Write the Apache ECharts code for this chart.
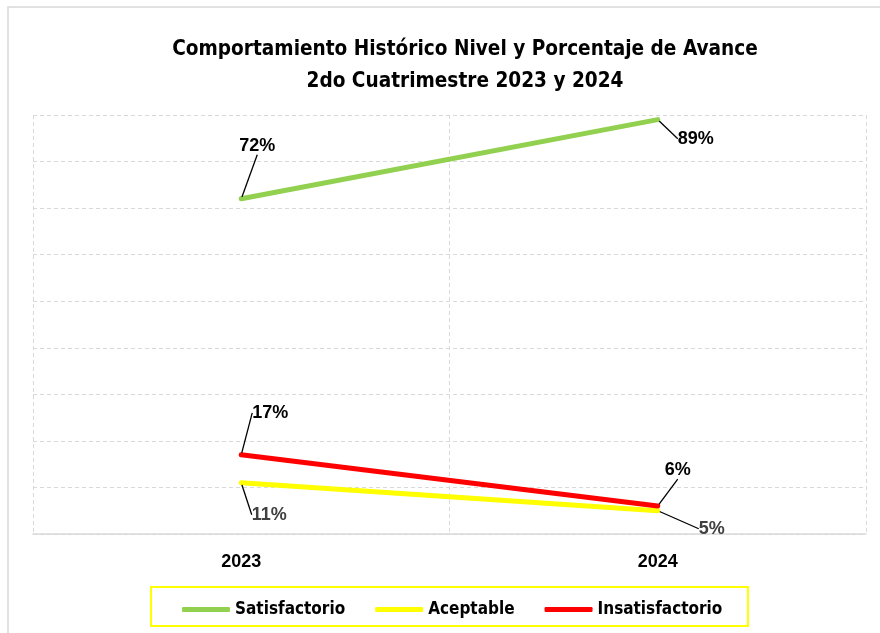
<!DOCTYPE html>
<html><head><meta charset="utf-8">
<script src="https://cdn.jsdelivr.net/npm/echarts@6/dist/echarts.min.js"></script>
<style>html,body{margin:0;padding:0;background:#fff}#c{width:880px;height:633px}</style>
</head><body><div id="c"></div>
<script>
const categories = ['2023', '2024'];
const satisfactorio = [72, 89];
const aceptable = [11, 5];
const insatisfactorio = [17, 6];
const seriesNames = ['Satisfactorio', 'Aceptable', 'Insatisfactorio'];
const yTicks = [0, 10, 20, 30, 40, 50, 60, 70, 80, 90];

const narrow = '"DejaVu Sans Condensed", "Liberation Sans", sans-serif';
const labelOffsets = {
  '0-0': [16, -53], '0-1': [38, 19],
  '1-0': [28, 32], '1-1': [54, 18],
  '2-0': [29, -42], '2-1': [20, -36]
};
const chart = echarts.init(document.getElementById('c'), null, {renderer: 'canvas'});
function lbl(color) {
  return {show: true, formatter: '{c}%', fontFamily: '"Liberation Sans", Arial, sans-serif',
    fontWeight: 'bold', fontSize: 18, color: color, position: 'inside'};
}
chart.setOption({
  animation: false,
  title: {
    text: 'Comportamiento Histórico Nivel y Porcentaje de Avance\n2do Cuatrimestre 2023 y 2024',
    left: 460, top: 29, textAlign: 'center',
    textStyle: {fontFamily: narrow, fontWeight: 'bold', fontSize: 20.6, lineHeight: 32, color: '#000'}
  },
  graphic: [
    {type: 'rect', shape: {x: 8, y: 7, width: 900, height: 700}, style: {fill: 'none', stroke: '#d9d9d9', lineWidth: 1.5}, silent: true, z: -1},
    {type: 'rect', shape: {x: 151, y: 587, width: 597, height: 39}, style: {fill: 'none', stroke: '#FFFF00', lineWidth: 2}, silent: true}
  ],
  legend: {
    data: seriesNames, left: 177, top: 596, itemGap: 30, itemWidth: 48, itemHeight: 5,
    icon: 'roundRect',
    textStyle: {fontFamily: narrow, fontWeight: 'bold', fontSize: 17, color: '#000'}
  },
  grid: {left: 33, right: 14, top: 115, bottom: 99, containLabel: false},
  xAxis: {
    type: 'category', data: categories, boundaryGap: true,
    axisLine: {lineStyle: {color: '#d9d9d9', width: 1.5}},
    axisTick: {show: false},
    axisLabel: {fontFamily: '"Liberation Sans", Arial, sans-serif', fontWeight: 'bold', fontSize: 18, color: '#000', margin: 19},
    splitLine: {show: true, lineStyle: {color: '#d9d9d9', type: [4, 3], width: 1}}
  },
  yAxis: {
    type: 'value', min: yTicks[0], max: yTicks[yTicks.length - 1], interval: 10,
    axisLine: {show: false}, axisTick: {show: false}, axisLabel: {show: false},
    splitLine: {lineStyle: {color: '#d9d9d9', type: [4, 3], width: 1}}
  },
  series: [
    {name: seriesNames[0], type: 'line', data: satisfactorio, color: '#92D050',
     lineStyle: {width: 5, cap: 'round'}, symbol: 'circle', symbolSize: 4, label: lbl('#000')},
    {name: seriesNames[1], type: 'line', data: aceptable, color: '#FFFF00',
     lineStyle: {width: 5, cap: 'round'}, symbol: 'circle', symbolSize: 4, label: lbl('#404040')},
    {name: seriesNames[2], type: 'line', data: insatisfactorio, color: '#FF0000',
     lineStyle: {width: 5, cap: 'round'}, symbol: 'circle', symbolSize: 4, label: lbl('#000')}
  ].map(s => Object.assign(s, {
    labelLine: {show: true, lineStyle: {color: '#000', width: 1.3}},
    labelLayout: function (p) {
      const o = labelOffsets[p.seriesIndex + '-' + p.dataIndex];
      return {dx: o[0], dy: o[1]};
    }
  }))
});
</script></body></html>
